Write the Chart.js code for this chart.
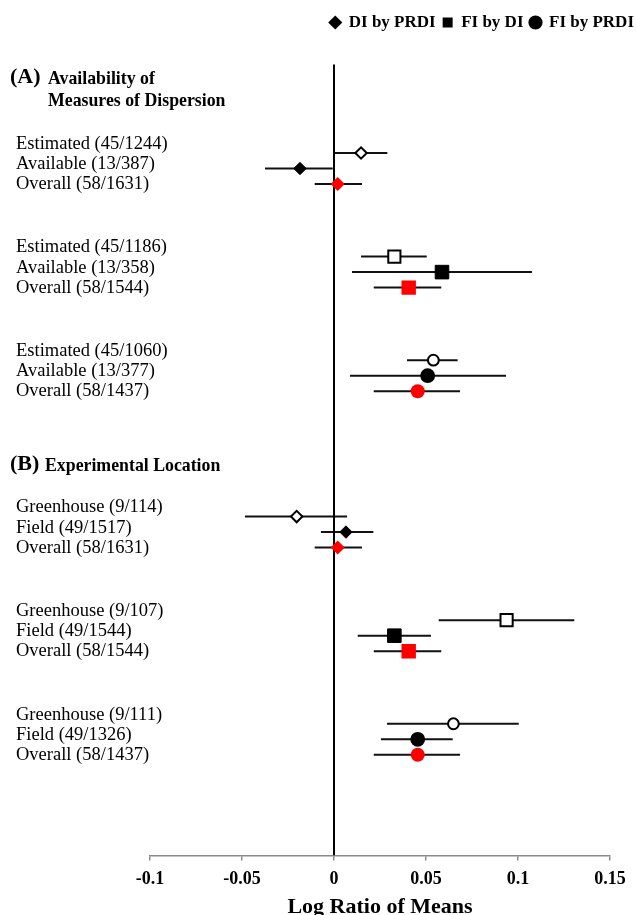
<!DOCTYPE html>
<html>
<head>
<meta charset="utf-8">
<script src="https://cdn.jsdelivr.net/npm/chart.js@4.4.1/dist/chart.umd.min.js"></script>
<style>
  html, body { margin: 0; padding: 0; background: #ffffff; }
  #wrap { width: 636px; height: 915px; position: relative; }
</style>
</head>
<body>
<div id="wrap"><canvas id="forest"></canvas></div>
<script>
// ---- data ----------------------------------------------------------------
const comparisons = ['DI by PRDI', 'FI by DI', 'FI by PRDI'];

// (A) Availability of measures of dispersion: rows per comparison
const dispersionLabels = [
  ['Estimated (45/1244)', 'Available (13/387)', 'Overall (58/1631)'],
  ['Estimated (45/1186)', 'Available (13/358)', 'Overall (58/1544)'],
  ['Estimated (45/1060)', 'Available (13/377)', 'Overall (58/1437)']
];
const dispersionMean = [
  [0.0147, -0.0185, 0.0020],
  [0.0328, 0.0587, 0.0406],
  [0.0540, 0.0509, 0.0455]
];
const dispersionLow = [
  [0.0000, -0.0375, -0.0105],
  [0.0147, 0.0098, 0.0216],
  [0.0397, 0.0087, 0.0216]
];
const dispersionHigh = [
  [0.0290, -0.0007, 0.0152],
  [0.0504, 0.1076, 0.0583],
  [0.0672, 0.0935, 0.0685]
];

// (B) Experimental location: rows per comparison
const locationLabels = [
  ['Greenhouse (9/114)', 'Field (49/1517)', 'Overall (58/1631)'],
  ['Greenhouse (9/107)', 'Field (49/1544)', 'Overall (58/1544)'],
  ['Greenhouse (9/111)', 'Field (49/1326)', 'Overall (58/1437)']
];
const locationMean = [
  [-0.0203, 0.0065, 0.0020],
  [0.0938, 0.0328, 0.0406],
  [0.0649, 0.0455, 0.0455]
];
const locationLow = [
  [-0.0484, -0.0071, -0.0105],
  [0.0569, 0.0129, 0.0216],
  [0.0288, 0.0255, 0.0216]
];
const locationHigh = [
  [0.0071, 0.0214, 0.0152],
  [0.1306, 0.0527, 0.0583],
  [0.1004, 0.0645, 0.0685]
];

const xTickValues = [-0.1, -0.05, 0, 0.05, 0.1, 0.15];
const xTickLabels = ['-0.1', '-0.05', '0', '0.05', '0.1', '0.15'];

// ---- layout & style ------------------------------------------------------
const SERIF = '"Liberation Serif", "Times New Roman", serif';
const ROW_PX = 15.51;          // pixel height of one row unit
const Y_BOTTOM = 51;           // row coordinate of the x axis (zero line runs 0..Y_BOTTOM)
const FIRST_GROUP = 5.7;
const GROUP_STEP = 6.68;
const SECTION_GAP = 3.4;

const shapes = ['rectRot', 'rect', 'circle'];
// per row inside a group: hollow, filled black, red
const rowStyle = {
  rectRot: { radius: [5.7, 6.2, 7.0], border: [2, 1, 0] },
  rect:    { radius: [8.6, 9.6, 10.2], border: [2, 1, 0] },
  circle:  { radius: [5.4, 7.4, 7.0], border: [2, 0, 0] }
};
const rowFill = ['#ffffff', '#000000', '#ff0000'];
const rowStroke = ['#000000', '#000000', '#ff0000'];

function groupStart(g) {
  return FIRST_GROUP + g * GROUP_STEP + (g >= 3 ? SECTION_GAP : 0);
}

// each comparison appears in section A (group c) and section B (group 3 + c)
const sections = [
  { offset: 0, labels: dispersionLabels, mean: dispersionMean, low: dispersionLow, high: dispersionHigh },
  { offset: 3, labels: locationLabels, mean: locationMean, low: locationLow, high: locationHigh }
];

const datasets = comparisons.map((name, c) => {
  const data = [], bg = [], bd = [], rad = [], bw = [];
  sections.forEach(sec => {
    sec.mean[c].forEach((m, r) => {
      data.push({ x: m, y: groupStart(sec.offset + c) + r });
      bg.push(rowFill[r]);
      bd.push(rowStroke[r]);
      rad.push(rowStyle[shapes[c]].radius[r]);
      bw.push(rowStyle[shapes[c]].border[r]);
    });
  });
  return {
    label: name,
    data,
    pointStyle: shapes[c],
    pointBackgroundColor: bg,
    pointBorderColor: bd,
    pointBorderWidth: bw,
    pointRadius: rad,
    pointHoverRadius: rad,
    showLine: false,
    order: 0
  };
});

// vertical line of no effect
datasets.push({
  label: 'zero',
  data: [{ x: 0, y: 0 }, { x: 0, y: Y_BOTTOM }],
  showLine: true,
  borderColor: '#000000',
  borderWidth: 2,
  pointRadius: 0,
  order: 10
});

// horizontal confidence intervals, drawn beneath the markers
const errorBars = {
  id: 'errorBars',
  beforeDatasetsDraw(chart) {
    const { ctx, scales: { x, y } } = chart;
    ctx.save();
    ctx.strokeStyle = '#111111';
    ctx.lineWidth = 2;
    sections.forEach(sec => {
      comparisons.forEach((_, c) => {
        sec.low[c].forEach((lo, r) => {
          const py = y.getPixelForValue(groupStart(sec.offset + c) + r);
          ctx.beginPath();
          ctx.moveTo(x.getPixelForValue(lo), py);
          ctx.lineTo(x.getPixelForValue(sec.high[c][r]), py);
          ctx.stroke();
        });
      });
    });
    ctx.restore();
  }
};

// section headings and row labels in the left margin
const sideText = {
  id: 'sideText',
  afterDraw(chart) {
    const { ctx, scales: { y } } = chart;
    ctx.save();
    ctx.fillStyle = '#000000';
    ctx.textAlign = 'left';
    ctx.textBaseline = 'middle';

    const headA = y.getPixelForValue(0.84);
    ctx.font = 'bold 22px ' + SERIF;
    ctx.fillText('(A)', 10, headA);
    ctx.font = 'bold 17.8px ' + SERIF;
    ctx.fillText('Availability of', 48, headA + 2);
    ctx.fillText('Measures of Dispersion', 48, headA + 24);

    const headB = y.getPixelForValue(groupStart(3) - 3.38);
    ctx.font = 'bold 22px ' + SERIF;
    ctx.fillText('(B)', 10, headB);
    ctx.font = 'bold 17.8px ' + SERIF;
    ctx.fillText('Experimental Location', 45, headB + 2);

    ctx.font = '18.5px ' + SERIF;
    sections.forEach(sec => {
      sec.labels.forEach((rows, c) => {
        const top = y.getPixelForValue(groupStart(sec.offset + c)) - 9;
        rows.forEach((t, r) => ctx.fillText(t, 16, top + r * 20.2));
      });
    });
    ctx.restore();
  }
};

// stretch the legend row to the right edge of the canvas
const legendToEdge = {
  id: 'legendToEdge',
  afterLayout(chart) {
    const lg = chart.legend;
    if (!lg) return;
    lg.right = chart.width - 2 + lg.options.labels.padding;
    lg.width = lg.right - lg.left;
  }
};

const chart = new Chart(document.getElementById('forest'), {
  type: 'scatter',
  data: { datasets },
  plugins: [errorBars, sideText, legendToEdge],
  options: {
    responsive: true,
    maintainAspectRatio: false,
    animation: false,
    events: [],
    layout: { padding: { left: 150, right: 26, top: 7, bottom: 0 } },
    plugins: {
      tooltip: { enabled: false },
      legend: {
        display: true,
        position: 'top',
        align: 'end',
        labels: {
          usePointStyle: true,
          boxWidth: 10,
          boxHeight: 10,
          padding: 7,
          color: '#000000',
          font: { family: SERIF, size: 17, weight: 'bold' },
          filter: item => item.datasetIndex < comparisons.length,
          generateLabels: ch => comparisons.map((name, i) => ({
            text: name,
            fillStyle: '#000000',
            strokeStyle: '#000000',
            lineWidth: 0,
            pointStyle: shapes[i],
            datasetIndex: i,
            hidden: false
          }))
        }
      }
    },
    scales: {
      x: {
        type: 'linear',
        min: -0.1,
        max: 0.15,
        afterBuildTicks: scale => { scale.ticks = xTickValues.map(v => ({ value: v })); },
        ticks: {
          color: '#000000',
          padding: 10,
          font: { family: SERIF, size: 18, weight: 'bold', lineHeight: 1 },
          callback: (v, i) => xTickLabels[i]
        },
        grid: { drawOnChartArea: false, drawTicks: true, tickLength: 5, color: '#8a8a8a', lineWidth: 1.5 },
        border: { display: true, color: '#8a8a8a', width: 1.5 },
        title: {
          display: true,
          text: 'Log Ratio of Means',
          color: '#000000',
          font: { family: SERIF, size: 22, weight: 'bold', lineHeight: 0.7 },
          padding: { top: 1, bottom: 0 }
        }
      },
      y: {
        type: 'linear',
        display: false,
        reverse: true,
        min: -1.6,
        max: Y_BOTTOM
      }
    }
  }
});

// keep one row unit at ROW_PX pixels: extend the top of the y range to fill the plot area
const area = chart.chartArea;
chart.options.scales.y.min = Y_BOTTOM - (area.bottom - area.top) / ROW_PX;
chart.update();
</script>
</body>
</html>
